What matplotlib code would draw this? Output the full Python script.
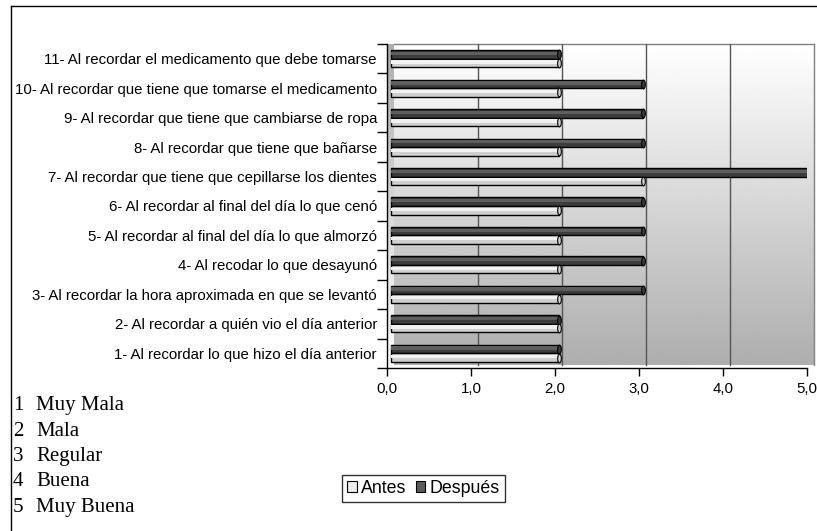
import numpy as np
import matplotlib.pyplot as plt
from matplotlib import transforms
from matplotlib.path import Path
from matplotlib.lines import Line2D
from matplotlib.patches import Patch

categorias = [
    "1- Al recordar lo que hizo el día anterior",
    "2- Al recordar a quién vio el día anterior",
    "3- Al recordar la hora aproximada en que se levantó",
    "4- Al recodar lo que desayunó",
    "5- Al recordar al final del día lo que almorzó",
    "6- Al recordar al final del día lo que cenó",
    "7- Al recordar que tiene que cepillarse los dientes",
    "8- Al recordar que tiene que bañarse",
    "9- Al recordar que tiene que cambiarse de ropa",
    "10- Al recordar que tiene que tomarse el medicamento",
    "11- Al recordar el medicamento que debe tomarse",
]
antes = [2, 2, 2, 2, 2, 2, 3, 2, 2, 2, 2]
despues = [2, 2, 3, 3, 3, 3, 5, 3, 3, 3, 2]
ticks_x = [0, 1, 2, 3, 4, 5]
escala_num = ["1", "2", "3", "4", "5"]
escala_txt = ["Muy Mala", "Mala", "Regular", "Buena", "Muy Buena"]

plt.rcParams['font.family'] = ['Liberation Sans', 'DejaVu Sans']

W, H = 817, 531
fig = plt.figure(figsize=(W / 100, H / 100), dpi=100)


def caja(x0, y0, x1, y1):
    return [x0 / W, 1 - y1 / H, (x1 - x0) / W, (y1 - y0) / H]


# back wall with vertical gradient
grad = np.linspace(1.0, 0.68, 256).reshape(-1, 1)
pared = fig.add_axes(caja(394, 44, 814, 365))
pared.imshow(grad, cmap='gray', vmin=0, vmax=1, aspect='auto', extent=[0, 1, 0, 1])
pared.set_xticks([])
pared.set_yticks([])
for s in pared.spines.values():
    s.set_color('#808080')
    s.set_linewidth(1)
pared.spines['left'].set_visible(False)
pared.spines['bottom'].set_visible(False)

# side wall, shaded the other way
lado = fig.add_axes(caja(387, 44, 394, 368))
lado.imshow(grad[::-1], cmap='gray', vmin=0, vmax=1,
            aspect='auto', extent=[0, 1, 0, 1])
lado.axis('off')

ax = fig.add_axes(caja(387, 44, 807, 368))
ax.set_facecolor('none')
ax.set_xlim(0, 5)
ax.set_ylim(0.5, len(categorias) + 0.5)

y = np.arange(1, len(categorias) + 1)
px = fig.dpi_scale_trans
desplaza_grid = ax.transData + transforms.ScaledTranslation(7 / 100, 0, px)
desplaza_bar = ax.transData + transforms.ScaledTranslation(3.5 / 100, 0, px)

for v in ticks_x[1:]:
    ln = ax.axvline(v, ymin=0.01, ymax=1, color='#555555', lw=1, zorder=1)
    ln.set_transform(transforms.blended_transform_factory(
        desplaza_grid, ax.transAxes))

h = 0.29
# cylinder-like bars: base bar plus a lighter band on top
series = [
    (despues, y + h / 2, '#3c3c3c', '#5e5e5e'),
    (antes, y - h / 2, '#cfcfcf', '#f1f1f1'),
]
ovalo = Path.unit_circle().transformed(transforms.Affine2D().scale(0.42, 1))
for vals, pos, base, brillo in series:
    barras = ax.barh(pos, vals, height=h, color=base, edgecolor='black',
                     linewidth=1, zorder=3)
    for b in barras:
        b.set_transform(desplaza_bar)
    banda = ax.barh(pos + h * 0.12, vals, height=h * 0.38, color=brillo,
                    linewidth=0, zorder=4)
    for b in banda:
        b.set_transform(desplaza_bar)
    tapa, = ax.plot(vals, pos, ls='none', marker=ovalo, markersize=6.3,
                    markerfacecolor=base, markeredgecolor='black',
                    markeredgewidth=0.8, zorder=5)
    tapa.set_transform(desplaza_bar)

ax.set_yticks(y, categorias, fontsize=10.8)
ax.set_yticks(np.arange(0.5, len(categorias) + 1), minor=True)
ax.tick_params(axis='y', which='major', length=0, pad=7.2)
ax.tick_params(axis='y', which='minor', length=7, width=1, color='black')
ax.set_xticks(ticks_x, [f"{t:.1f}".replace('.', ',') for t in ticks_x],
              fontsize=10.8)
ax.tick_params(axis='x', length=6, width=1, pad=4)
for lado_eje in ['top', 'right']:
    ax.spines[lado_eje].set_visible(False)
ax.spines['left'].set_linewidth(1)
ax.spines['bottom'].set_linewidth(1)

# outer frame (top and left edges)
fig.add_artist(Line2D([11 / W, 1], [1 - 6 / H, 1 - 6 / H], color='black', lw=1))
fig.add_artist(Line2D([11 / W, 11 / W], [0, 1 - 6 / H], color='black', lw=1))

# rating scale
base_y = [410, 435.5, 461, 486.5, 512]
for n, t, yb in zip(escala_num, escala_txt, base_y):
    fig.text(13 / W, 1 - yb / H, n, family=['Liberation Serif'], fontsize=15,
             va='baseline')
    fig.text(36 / W, 1 - yb / H, t, family=['Liberation Serif'], fontsize=15,
             va='baseline')

handles = [Patch(facecolor='#ececec', edgecolor='black', linewidth=0.8),
           Patch(facecolor='#5a5a5a', edgecolor='black', linewidth=0.8)]
leg = fig.legend(handles, ['Antes', 'Después'], loc='center',
                 bbox_to_anchor=(423.5 / W, 1 - 488.5 / H), ncol=2,
                 fontsize=12.8, frameon=True, fancybox=False,
                 handlelength=0.55, handleheight=0.55, handletextpad=0.25,
                 columnspacing=0.5, borderpad=0.3, borderaxespad=0)
leg.get_frame().set_edgecolor('black')
leg.get_frame().set_linewidth(1)

fig.savefig('out.png', dpi=100)
